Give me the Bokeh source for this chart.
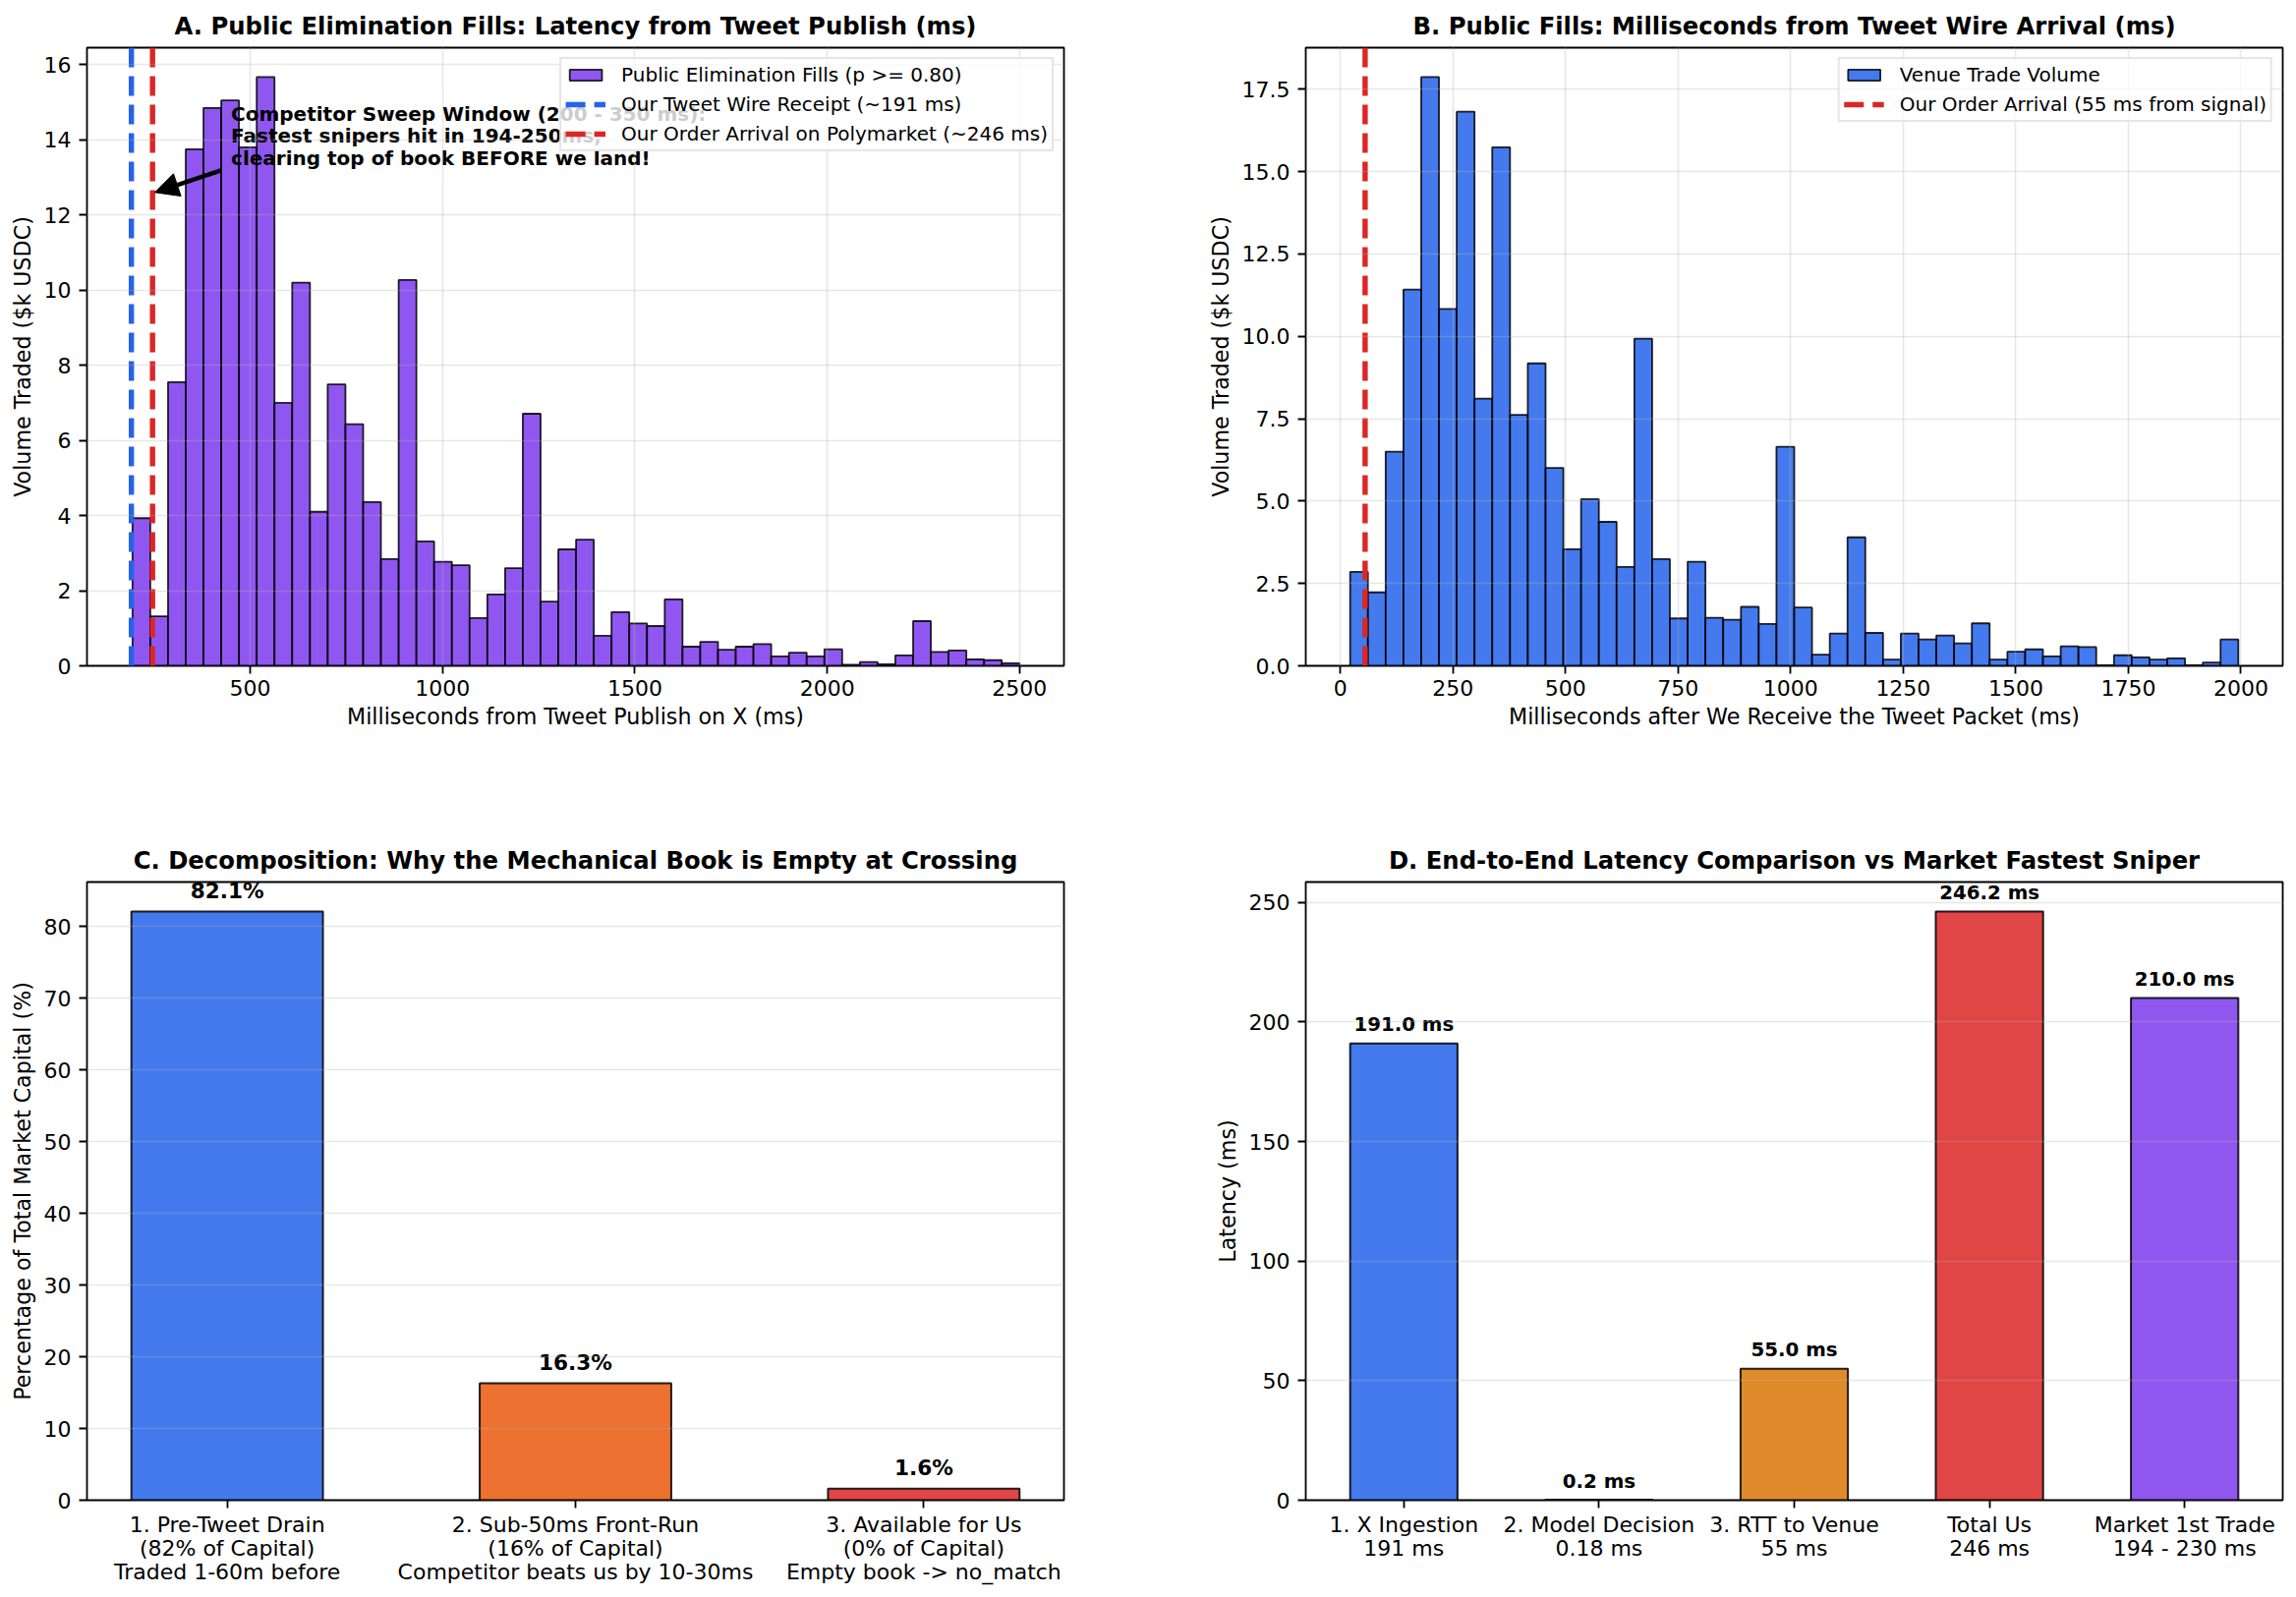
import numpy as np
from bokeh.plotting import figure
from bokeh.layouts import column, row
from bokeh.models import (FixedTicker, Arrow, NormalHead, Legend, LegendItem,
                          Range1d)
from bokeh.core.properties import value
from bokeh.embed import file_html
from bokeh.resources import INLINE

FONT = "DejaVu Sans"

# ---------------- data ----------------
# Panel A: public elimination fills, ms from tweet publish
a_bin_start, a_bin_end, a_nbins = 194.0, 2500.0, 50
a_volumes = [3.93, 1.32, 7.55, 13.75, 14.85, 15.05, 13.8, 15.67, 7.0, 10.2,
             4.1, 7.49, 6.43, 4.36, 2.84, 10.27, 3.31, 2.77, 2.68, 1.27,
             1.90, 2.60, 6.71, 1.71, 3.10, 3.36, 0.80, 1.43, 1.13, 1.06,
             1.77, 0.51, 0.64, 0.43, 0.51, 0.58, 0.25, 0.35, 0.25, 0.44,
             0.03, 0.10, 0.04, 0.28, 1.19, 0.37, 0.41, 0.17, 0.15, 0.07]
a_wire_ms = 191
a_order_ms = 246
a_xticks = [500, 1000, 1500, 2000, 2500]
a_yticks = [0, 2, 4, 6, 8, 10, 12, 14, 16]

# Panel B: public fills, ms from tweet wire arrival
b_bin_start, b_bin_end, b_nbins = 21.8, 1994.2, 50
b_volumes = [2.85, 2.23, 6.50, 11.42, 17.87, 10.83, 16.82, 8.11, 15.74, 7.62,
             9.18, 6.01, 3.54, 5.06, 4.37, 3.00, 9.93, 3.24, 1.44, 3.16,
             1.46, 1.40, 1.79, 1.27, 6.65, 1.77, 0.34, 0.98, 3.90, 1.00,
             0.19, 0.98, 0.80, 0.92, 0.68, 1.29, 0.19, 0.43, 0.50, 0.29,
             0.59, 0.57, 0.02, 0.32, 0.26, 0.19, 0.23, 0.02, 0.10, 0.80]
b_order_ms = 55
b_xticks = [0, 250, 500, 750, 1000, 1250, 1500, 1750, 2000]
b_yticks = [0.0, 2.5, 5.0, 7.5, 10.0, 12.5, 15.0, 17.5]

# Panel C: decomposition
c_labels = ["1. Pre-Tweet Drain\n(82% of Capital)\nTraded 1-60m before",
            "2. Sub-50ms Front-Run\n(16% of Capital)\nCompetitor beats us by 10-30ms",
            "3. Available for Us\n(0% of Capital)\nEmpty book -> no_match"]
c_values = [82.1, 16.3, 1.6]
c_colors = ["#2563eb", "#ea580c", "#dc2626"]
c_yticks = [0, 10, 20, 30, 40, 50, 60, 70, 80]

# Panel D: latency comparison
d_labels = ["1. X Ingestion\n191 ms", "2. Model Decision\n0.18 ms",
            "3. RTT to Venue\n55 ms", "Total Us\n246 ms",
            "Market 1st Trade\n194 - 230 ms"]
d_values = [191.0, 0.18, 55.0, 246.2, 210.0]
d_colors = ["#2563eb", "#16a34a", "#d97706", "#dc2626", "#7c3aed"]
d_yticks = [0, 50, 100, 150, 200, 250]

# annotation in panel A
ann_lines = ["Competitor Sweep Window (200 - 350 ms):",
             "Fastest snipers hit in 194-250ms,",
             "clearing top of book BEFORE we land!"]
ann_text_xy = (450, 14.1)
ann_arrow_from = (424, 13.19)
ann_arrow_to = (252, 12.6)

TICK_FS = "22px"
LABEL_FS = "22.2px"
VLINE_DASH = "20 9"


def style(p, ylabel, xlabel=None, xgrid=True):
    p.background_fill_color = "white"
    p.border_fill_color = "white"
    p.outline_line_color = "black"
    p.outline_line_width = 1.8
    p.title.text_font = FONT
    p.title.text_font_size = "24.3px"
    p.title.text_font_style = "bold"
    p.title.text_color = "black"
    p.title.align = "center"
    p.title.standoff = 15
    for ax in p.axis:
        ax.axis_line_color = None
        ax.major_tick_out = 8
        ax.major_tick_in = 0
        ax.minor_tick_out = 0
        ax.minor_tick_in = 0
        ax.major_tick_line_width = 1.8
        ax.major_tick_line_color = "black"
        ax.major_label_text_font = FONT
        ax.major_label_text_font_size = TICK_FS
        ax.major_label_text_color = "black"
        ax.axis_label_text_font = FONT
        ax.axis_label_text_font_size = LABEL_FS
        ax.axis_label_text_font_style = "normal"
        ax.axis_label_text_color = "black"
    p.xaxis.major_label_standoff = 6
    p.yaxis.major_label_standoff = 8
    p.yaxis.axis_label = ylabel
    p.yaxis.axis_label_standoff = 6
    if xlabel:
        p.xaxis.axis_label = xlabel
        p.xaxis.axis_label_standoff = 5
    for g in p.grid:
        g.grid_line_color = "#b0b0b0"
        g.grid_line_alpha = 0.3
        g.grid_line_width = 1.6
        g.level = "annotation"
    if not xgrid:
        p.xgrid.grid_line_color = None


def make_legend(items):
    lg = Legend(items=items, location="top_right", margin=10, padding=4,
                spacing=6, glyph_width=41, glyph_height=14, label_height=20,
                label_standoff=16, label_text_font=FONT,
                label_text_font_size="20px", label_text_color="black",
                border_line_color="#cccccc", border_line_width=2,
                background_fill_color="white", background_fill_alpha=0.8)
    return lg


# ---------------- Panel A ----------------
a_edges = np.linspace(a_bin_start, a_bin_end, a_nbins + 1)
a_lo = min(a_wire_ms, a_bin_start)
a_pad = (a_bin_end - a_lo) * 0.05
a_ymax = max(a_volumes) * 1.05
pA = figure(width=1160, height=810, output_backend="svg", toolbar_location=None,
            x_range=Range1d(a_lo - a_pad, a_bin_end + a_pad),
            y_range=Range1d(0, a_ymax),
            min_border_left=88, min_border_right=78, min_border_top=48,
            min_border_bottom=133,
            title="A. Public Elimination Fills: Latency from Tweet Publish (ms)")
style(pA, "Volume Traded ($k USDC)", "Milliseconds from Tweet Publish on X (ms)")
pA.xaxis.ticker = FixedTicker(ticks=a_xticks)
pA.yaxis.ticker = FixedTicker(ticks=a_yticks)
rA = pA.quad(left=a_edges[:-1], right=a_edges[1:], bottom=0, top=a_volumes,
             fill_color="#7c3aed", fill_alpha=0.85, line_color="black",
             line_alpha=0.85, line_width=1.8)
rA_wire = pA.line(x=[a_wire_ms, a_wire_ms], y=[0, a_ymax], line_color="#2563eb",
                  line_width=5.4, line_dash=VLINE_DASH)
rA_order = pA.line(x=[a_order_ms, a_order_ms], y=[0, a_ymax], line_color="#dc2626",
                   line_width=5.4, line_dash=VLINE_DASH)
pA.text(x=[ann_text_xy[0]], y=[ann_text_xy[1]], text=["\n".join(ann_lines)],
        text_font=value(FONT), text_font_size="20px", text_font_style="bold",
        text_color="black", text_align="left", text_baseline="middle",
        text_line_height=0.95)
pA.add_layout(Arrow(end=NormalHead(size=24, fill_color="black", line_color="black"),
                    x_start=ann_arrow_from[0], y_start=ann_arrow_from[1],
                    x_end=ann_arrow_to[0], y_end=ann_arrow_to[1],
                    line_width=4.5, line_color="black"))
pA.add_layout(make_legend([
    LegendItem(label="Public Elimination Fills (p >= 0.80)", renderers=[rA]),
    LegendItem(label="Our Tweet Wire Receipt (~191 ms)", renderers=[rA_wire]),
    LegendItem(label="Our Order Arrival on Polymarket (~246 ms)", renderers=[rA_order]),
]))

# ---------------- Panel B ----------------
b_edges = np.linspace(b_bin_start, b_bin_end, b_nbins + 1)
b_lo = min(b_order_ms, b_bin_start)
b_pad = (b_bin_end - b_lo) * 0.05
b_ymax = max(b_volumes) * 1.05
pB = figure(width=1175, height=810, output_backend="svg", toolbar_location=None,
            x_range=Range1d(b_lo - b_pad, b_bin_end + b_pad),
            y_range=Range1d(0, b_ymax),
            min_border_left=168, min_border_right=13, min_border_top=48,
            min_border_bottom=133,
            title="B. Public Fills: Milliseconds from Tweet Wire Arrival (ms)")
style(pB, "Volume Traded ($k USDC)", "Milliseconds after We Receive the Tweet Packet (ms)")
pB.xaxis.ticker = FixedTicker(ticks=b_xticks)
pB.yaxis.ticker = FixedTicker(ticks=b_yticks)
pB.yaxis.major_label_overrides = {t: f"{t:.1f}" for t in b_yticks}
rB = pB.quad(left=b_edges[:-1], right=b_edges[1:], bottom=0, top=b_volumes,
             fill_color="#2563eb", fill_alpha=0.85, line_color="black",
             line_alpha=0.85, line_width=1.8)
rB_order = pB.line(x=[b_order_ms, b_order_ms], y=[0, b_ymax], line_color="#dc2626",
                   line_width=5.4, line_dash=VLINE_DASH)
pB.add_layout(make_legend([
    LegendItem(label="Venue Trade Volume", renderers=[rB]),
    LegendItem(label="Our Order Arrival (55 ms from signal)", renderers=[rB_order]),
]))

# ---------------- Panel C ----------------
c_x = list(range(len(c_values)))
c_w = 0.55
c_ymax = max(c_values) * 1.05
c_span = len(c_x) - 1 + c_w
pC = figure(width=1160, height=814, output_backend="svg", toolbar_location=None,
            x_range=Range1d(-c_w / 2 - 0.05 * c_span, len(c_x) - 1 + c_w / 2 + 0.05 * c_span),
            y_range=Range1d(0, c_ymax),
            min_border_left=88, min_border_right=78, min_border_top=87,
            min_border_bottom=98,
            title="C. Decomposition: Why the Mechanical Book is Empty at Crossing")
style(pC, "Percentage of Total Market Capital (%)", xgrid=False)
pC.xaxis.ticker = FixedTicker(ticks=c_x)
pC.xaxis.major_label_overrides = {i: lab for i, lab in zip(c_x, c_labels)}
pC.xaxis.major_label_text_line_height = 0.97
pC.xaxis.major_label_standoff = 4
pC.yaxis.ticker = FixedTicker(ticks=c_yticks)
pC.vbar(x=c_x, top=c_values, width=c_w, bottom=0, fill_color=c_colors,
        fill_alpha=0.85, line_color="black", line_alpha=0.85, line_width=2)
pC.text(x=c_x, y=c_values, text=[f"{v:.1f}%" for v in c_values], y_offset=-21,
        text_font=value(FONT), text_font_size="21.6px", text_font_style="bold",
        text_color="black", text_align="center", text_baseline="middle")

# ---------------- Panel D ----------------
d_x = list(range(len(d_values)))
d_w = 0.55
d_ymax = max(d_values) * 1.05
d_span = len(d_x) - 1 + d_w
pD = figure(width=1175, height=814, output_backend="svg", toolbar_location=None,
            x_range=Range1d(-d_w / 2 - 0.05 * d_span, len(d_x) - 1 + d_w / 2 + 0.05 * d_span),
            y_range=Range1d(0, d_ymax),
            min_border_left=168, min_border_right=13, min_border_top=87,
            min_border_bottom=98,
            title="D. End-to-End Latency Comparison vs Market Fastest Sniper")
style(pD, "Latency (ms)", xgrid=False)
pD.xaxis.ticker = FixedTicker(ticks=d_x)
pD.xaxis.major_label_overrides = {i: lab for i, lab in zip(d_x, d_labels)}
pD.xaxis.major_label_text_line_height = 0.97
pD.xaxis.major_label_standoff = 4
pD.yaxis.ticker = FixedTicker(ticks=d_yticks)
pD.vbar(x=d_x, top=d_values, width=d_w, bottom=0, fill_color=d_colors,
        fill_alpha=0.85, line_color="black", line_alpha=0.85, line_width=2)
pD.text(x=d_x, y=d_values, text=[f"{v:.1f} ms" for v in d_values], y_offset=-19,
        text_font=value(FONT), text_font_size="19.8px", text_font_style="bold",
        text_color="black", text_align="center", text_baseline="middle")

layout = column(row(pA, pB), row(pC, pD))
open("out.html", "w").write(file_html(layout, INLINE))
